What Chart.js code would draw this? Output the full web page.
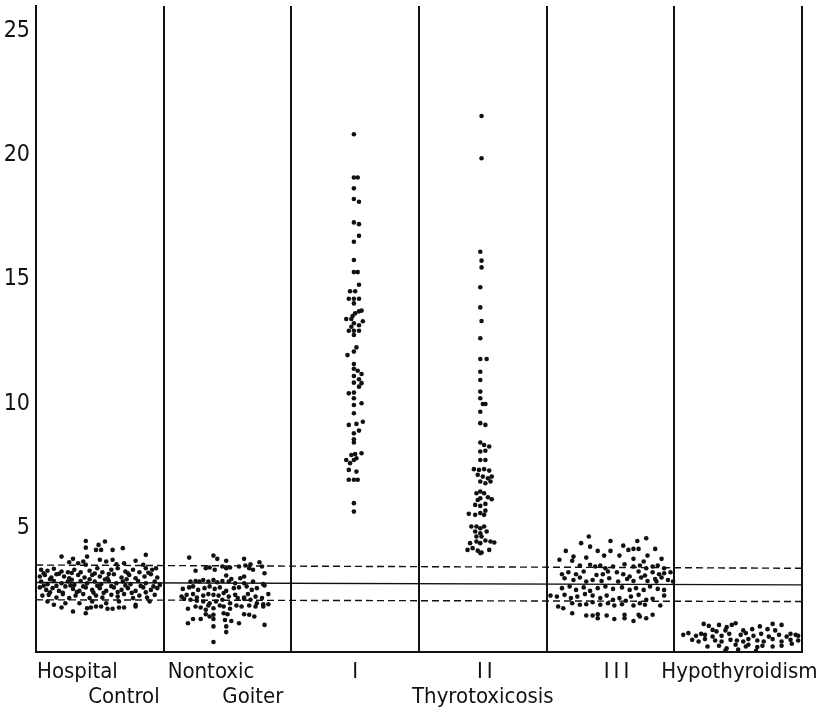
<!DOCTYPE html>
<html>
<head>
<meta charset="utf-8">
<script src="https://cdn.jsdelivr.net/npm/chart.js@4.4.1/dist/chart.umd.min.js"></script>
<style>
  body { margin: 0; background: #fff; }
  canvas { display: block; }
</style>
</head>
<body>
<canvas id="mycanvas" width="826" height="715"></canvas>
<script>
// column labels (first line, second line) and the group label under I-III
var labelTop = ['Hospital', 'Nontoxic', 'I', 'II', 'III', 'Hypothyroidism'];
var labelBottom = ['Control', 'Goiter', '', '', '', ''];
var groupLabel = 'Thyrotoxicosis';
var yTicks = [5, 10, 15, 20, 25];

// reference lines, value at left edge and at right edge
var meanLine = [2.80, 2.70];
var upperLine = [3.50, 3.37];
var lowerLine = [2.10, 2.03];

// points: [position inside column 0..1, value]
var hospitalControl = [
  [0.39,4.47],[0.54,4.45],[0.49,4.31],[0.47,4.11],[0.51,4.11],[0.39,4.20],[0.68,4.18],[0.60,4.11],[0.20,3.84],[0.40,3.84],[0.86,3.91],[0.29,3.75],[0.33,3.57],[0.26,3.61],[0.37,3.64],[0.39,3.51],[0.50,3.71],[0.55,3.64],[0.60,3.71],[0.63,3.53],[0.78,3.67],[0.84,3.51],[0.69,3.57],
  [0.04,3.31],[0.09,3.27],[0.14,3.35],[0.20,3.24],[0.25,3.21],[0.30,3.31],[0.35,3.21],[0.42,3.27],[0.48,3.37],[0.52,3.21],[0.59,3.31],[0.64,3.37],[0.70,3.24],[0.76,3.31],[0.81,3.21],[0.86,3.37],[0.91,3.31],[0.94,3.37],
  [0.06,3.17],[0.18,3.15],[0.28,3.18],[0.46,3.16],[0.57,3.14],[0.72,3.17],[0.88,3.19],
  [0.03,3.04],[0.07,3.10],[0.12,3.00],[0.16,3.13],[0.22,3.04],[0.26,2.97],[0.33,3.10],[0.38,3.00],[0.44,3.10],[0.50,3.04],[0.56,2.97],[0.61,3.13],[0.67,3.00],[0.73,3.10],[0.78,2.97],[0.85,3.04],[0.90,3.13],[0.95,3.00],
  [0.11,2.93],[0.28,2.91],[0.42,2.93],[0.54,2.92],[0.71,2.93],
  [0.04,2.84],[0.09,2.73],[0.14,2.86],[0.20,2.77],[0.25,2.84],[0.30,2.70],[0.35,2.86],[0.40,2.77],[0.46,2.84],[0.51,2.73],[0.57,2.86],[0.63,2.77],[0.68,2.84],[0.74,2.73],[0.80,2.86],[0.86,2.77],[0.93,2.84],[0.97,2.70],
  [0.06,2.67],[0.16,2.66],[0.27,2.68],[0.37,2.64],[0.48,2.67],[0.59,2.65],[0.70,2.68],[0.82,2.66],[0.92,2.64],
  [0.03,2.60],[0.08,2.50],[0.13,2.57],[0.18,2.46],[0.23,2.64],[0.29,2.54],[0.34,2.46],[0.39,2.60],[0.44,2.50],[0.50,2.57],[0.55,2.46],[0.61,2.60],[0.67,2.50],[0.72,2.57],[0.78,2.46],[0.84,2.60],[0.90,2.50],[0.95,2.57],
  [0.11,2.40],[0.21,2.38],[0.32,2.41],[0.45,2.39],[0.53,2.38],[0.64,2.41],[0.75,2.38],[0.86,2.40],
  [0.05,2.27],[0.10,2.30],[0.16,2.19],[0.21,2.33],[0.26,2.17],[0.31,2.27],[0.37,2.33],[0.42,2.17],[0.47,2.27],[0.52,2.19],[0.59,2.30],[0.64,2.23],[0.69,2.33],[0.76,2.17],[0.81,2.27],[0.87,2.19],[0.93,2.30],
  [0.09,2.03],[0.14,1.90],[0.23,1.96],[0.34,1.96],[0.44,2.03],[0.55,1.96],[0.65,2.03],[0.78,1.90],[0.89,2.03],
  [0.20,1.79],[0.29,1.63],[0.40,1.76],[0.39,1.56],[0.43,1.79],[0.47,1.83],[0.51,1.83],[0.56,1.74],[0.60,1.74],[0.65,1.79],[0.69,1.79],[0.78,1.83]
];

var nontoxicGoiter = [
  [0.20,3.80],[0.39,3.88],[0.42,3.75],[0.49,3.67],[0.63,3.75],[0.75,3.61],[0.68,3.53],
  [0.25,3.27],[0.33,3.37],[0.36,3.40],[0.40,3.31],[0.46,3.44],[0.49,3.37],[0.52,3.40],[0.59,3.44],[0.64,3.48],[0.67,3.37],[0.70,3.31],[0.77,3.44],[0.79,3.17],
  [0.49,3.08],[0.53,2.94],[0.60,2.97],[0.63,3.04],
  [0.21,2.84],[0.25,2.86],[0.28,2.84],[0.31,2.90],[0.35,2.84],[0.39,2.90],[0.42,2.81],[0.46,2.86],[0.51,2.84],[0.56,2.77],[0.63,2.77],[0.70,2.84],[0.78,2.73],
  [0.15,2.54],[0.20,2.60],[0.23,2.64],[0.27,2.50],[0.32,2.57],[0.36,2.64],[0.40,2.54],[0.44,2.60],[0.49,2.46],[0.55,2.57],[0.59,2.60],[0.65,2.64],[0.69,2.50],[0.73,2.57],[0.79,2.68],
  [0.14,2.23],[0.18,2.30],[0.23,2.33],[0.26,2.19],[0.31,2.27],[0.35,2.33],[0.39,2.30],[0.43,2.27],[0.47,2.37],[0.51,2.23],[0.56,2.30],[0.63,2.19],[0.66,2.33],[0.72,2.23],[0.77,2.17],[0.82,2.33],
  [0.16,2.14],[0.21,2.10],[0.26,2.06],[0.31,2.03],[0.36,1.96],[0.41,2.03],[0.46,2.10],[0.52,1.96],[0.58,2.17],[0.63,2.14],[0.68,2.10],[0.73,1.96],[0.78,1.92],
  [0.19,1.74],[0.25,1.83],[0.29,1.79],[0.33,1.70],[0.35,1.87],[0.39,1.76],[0.44,1.87],[0.47,1.83],[0.52,1.74],[0.57,1.87],[0.61,1.83],[0.67,1.87],[0.72,1.83],[0.78,1.83],[0.82,1.92],
  [0.33,1.52],[0.36,1.43],[0.39,1.50],[0.47,1.56],[0.50,1.52],[0.63,1.52],[0.67,1.50],[0.71,1.43],
  [0.19,1.16],[0.23,1.33],[0.29,1.33],[0.39,1.33],[0.39,1.03],[0.48,1.29],[0.49,1.03],[0.49,0.80],[0.53,1.25],[0.59,1.16],[0.79,1.09],[0.39,0.40]
];

var thyroI = [
  [0.49,20.84],[0.49,19.1],[0.52,19.1],[0.49,18.66],[0.49,18.23],[0.53,18.12],[0.49,17.29],[0.53,17.22],[0.53,16.75],[0.49,16.51],
  [0.49,15.78],[0.49,15.29],[0.52,15.29],[0.53,14.78],[0.46,14.52],[0.50,14.52],[0.45,14.22],[0.49,14.22],[0.53,14.22],[0.49,14.03],
  [0.55,13.74],[0.53,13.71],[0.50,13.63],[0.48,13.52],[0.43,13.4],[0.47,13.4],[0.56,13.31],[0.49,13.23],[0.47,13.09],[0.53,13.15],
  [0.45,12.93],[0.49,12.93],[0.53,12.93],[0.49,12.76],[0.51,12.26],[0.49,12.09],[0.44,11.95],
  [0.49,11.59],[0.49,11.4],[0.52,11.32],[0.55,11.19],[0.49,11.11],[0.53,10.98],[0.49,10.84],[0.55,10.82],[0.53,10.68],[0.45,10.41],[0.49,10.44],[0.49,10.21],
  [0.49,9.94],[0.55,10.01],[0.49,9.61],[0.45,9.14],[0.51,9.18],[0.56,9.27],[0.49,8.8],[0.53,8.91],[0.49,8.56],[0.49,8.43],
  [0.50,7.97],[0.55,8.0],[0.47,7.93],[0.43,7.73],[0.49,7.73],[0.46,7.6],[0.51,7.8],[0.45,7.33],[0.51,7.26],
  [0.45,6.93],[0.49,6.93],[0.52,6.93],[0.49,5.99],[0.49,5.65]
];

var thyroII = [
  [0.49,21.57],[0.49,19.87],[0.48,16.11],[0.49,15.75],[0.49,15.48],[0.48,14.68],[0.48,13.87],[0.49,13.32],[0.48,12.63],[0.48,11.79],[0.53,11.79],[0.48,11.28],[0.48,10.95],[0.48,10.48],
  [0.48,10.21],[0.50,9.98],[0.52,9.98],[0.48,9.67],[0.48,9.21],[0.52,9.14],
  [0.48,8.43],[0.51,8.33],[0.55,8.27],[0.48,8.07],[0.52,8.1],[0.48,7.73],[0.52,7.73],
  [0.43,7.36],[0.47,7.33],[0.51,7.36],[0.55,7.3],[0.46,7.13],[0.50,7.06],[0.54,6.99],[0.57,7.06],
  [0.48,6.86],[0.56,6.86],[0.52,6.79],[0.48,6.46],[0.45,6.39],[0.51,6.39],
  [0.48,6.19],[0.54,6.23],[0.57,6.15],[0.46,6.12],[0.44,5.92],[0.48,5.88],[0.52,5.96],
  [0.39,5.56],[0.44,5.52],[0.48,5.59],[0.52,5.69],[0.51,5.52],
  [0.41,5.05],[0.45,5.05],[0.48,4.98],[0.51,5.05],[0.44,4.85],[0.48,4.78],[0.53,4.85],[0.45,4.65],[0.49,4.65],
  [0.40,4.38],[0.45,4.45],[0.48,4.38],[0.52,4.49],[0.56,4.45],[0.59,4.41],
  [0.38,4.11],[0.42,4.18],[0.46,4.08],[0.49,4.0],[0.55,4.11],[0.48,3.98]
];

var thyroIII = [
  [0.33,4.65],[0.50,4.47],[0.71,4.47],[0.78,4.58],[0.27,4.38],[0.34,4.24],[0.60,4.28],[0.15,4.07],[0.40,4.07],[0.50,4.07],[0.64,4.11],[0.68,4.15],[0.72,4.15],[0.85,4.15],[0.21,3.84],[0.31,3.80],[0.45,3.88],[0.57,3.88],[0.79,3.88],[0.10,3.71],[0.68,3.75],[0.76,3.64],[0.90,3.75],[0.20,3.67],
  [0.26,3.48],[0.34,3.51],[0.38,3.44],[0.42,3.48],[0.46,3.37],[0.52,3.44],[0.61,3.53],[0.68,3.44],[0.73,3.48],[0.78,3.37],[0.83,3.44],[0.87,3.48],[0.92,3.37],
  [0.12,3.13],[0.17,3.21],[0.23,3.13],[0.29,3.24],[0.39,3.10],[0.44,3.13],[0.48,3.24],[0.55,3.21],[0.60,3.13],[0.65,3.04],[0.72,3.24],[0.77,3.08],[0.83,3.21],[0.88,3.13],[0.92,3.17],[0.97,3.21],
  [0.14,2.97],[0.21,2.90],[0.26,3.00],[0.31,2.84],[0.36,2.90],[0.43,2.86],[0.49,2.97],[0.56,2.84],[0.63,2.94],[0.68,2.86],[0.74,3.00],[0.79,2.86],[0.85,2.94],[0.90,3.00],[0.95,2.90],[0.86,2.84],[0.99,2.84],
  [0.12,2.57],[0.18,2.64],[0.23,2.50],[0.29,2.60],[0.34,2.46],[0.40,2.57],[0.46,2.64],[0.52,2.54],[0.59,2.60],[0.65,2.50],[0.70,2.57],[0.76,2.50],[0.81,2.64],[0.87,2.54],[0.92,2.50],
  [0.03,2.27],[0.08,2.23],[0.14,2.30],[0.19,2.17],[0.24,2.23],[0.30,2.33],[0.36,2.27],[0.42,2.17],[0.47,2.27],[0.52,2.10],[0.57,2.17],[0.62,2.06],[0.66,2.23],[0.72,2.30],[0.78,2.10],[0.83,2.14],[0.92,2.27],
  [0.09,1.83],[0.13,1.76],[0.20,1.96],[0.26,1.90],[0.31,1.92],[0.36,2.00],[0.42,1.90],[0.48,1.96],[0.53,1.87],[0.59,1.92],[0.68,1.87],[0.73,1.96],[0.89,1.87],[0.77,1.90],
  [0.20,1.56],[0.31,1.47],[0.36,1.47],[0.40,1.52],[0.40,1.36],[0.47,1.47],[0.53,1.33],[0.61,1.50],[0.61,1.36],[0.68,1.25],[0.72,1.50],[0.73,1.43],[0.78,1.36],[0.83,1.50]
];

var hypothyroidism = [
  [0.23,1.13],[0.27,1.05],[0.35,1.09],[0.41,1.00],[0.45,1.09],[0.48,1.16],[0.67,1.03],[0.77,1.13],[0.84,1.09],[0.30,0.89],[0.33,0.83],[0.40,0.87],[0.54,0.87],[0.61,0.92],[0.73,0.92],[0.79,0.87],[0.91,0.73],
  [0.07,0.69],[0.11,0.76],[0.17,0.65],[0.21,0.73],[0.24,0.69],[0.30,0.62],[0.37,0.65],[0.43,0.73],[0.52,0.69],[0.56,0.76],[0.62,0.65],[0.68,0.73],[0.74,0.62],[0.82,0.69],[0.88,0.62],[0.95,0.69],[0.97,0.65],
  [0.14,0.49],[0.19,0.42],[0.24,0.52],[0.32,0.46],[0.37,0.42],[0.44,0.49],[0.49,0.46],[0.54,0.42],[0.58,0.52],[0.65,0.46],[0.70,0.42],[0.77,0.52],[0.84,0.42],[0.91,0.49],[0.97,0.46],
  [0.26,0.22],[0.35,0.25],[0.41,0.15],[0.48,0.29],[0.56,0.22],[0.65,0.20],[0.69,0.25],[0.77,0.22],[0.84,0.25],[0.92,0.33],[0.58,0.29],[0.40,0.06],[0.64,0.05],[0.50,0.10]
];

var groups = [hospitalControl, nontoxicGoiter, thyroI, thyroII, thyroIII, hypothyroidism];
var nCols = labelTop.length;

var datasets = [];
groups.forEach(function(pts, i) {
  datasets.push({
    type: 'scatter',
    label: labelTop[i],
    data: pts.map(function(p) { return { x: i + p[0], y: p[1] }; }),
    backgroundColor: '#111',
    borderWidth: 0,
    pointRadius: 2.3
  });
});

function refLine(vals, dash) {
  return {
    type: 'line',
    data: [{ x: 0, y: vals[0] }, { x: nCols, y: vals[1] }],
    borderColor: '#111',
    borderWidth: 1.4,
    borderDash: dash,
    pointRadius: 0,
    fill: false
  };
}
datasets.push(refLine(meanLine, []));
datasets.push(refLine(upperLine, [7, 4]));
datasets.push(refLine(lowerLine, [7, 4]));

var FONT = '"DejaVu Sans Condensed", "DejaVu Sans", sans-serif';

var labelPlugin = {
  id: 'colLabels',
  afterDraw: function(chart) {
    var ctx = chart.ctx;
    var xs = chart.scales.x;
    var row1 = chart.chartArea.bottom + 26;
    var row2 = row1 + 25;
    ctx.save();
    ctx.font = '22px ' + FONT;
    ctx.fillStyle = '#111';
    ctx.textBaseline = 'alphabetic';

    ctx.textAlign = 'left';
    ctx.fillText(labelTop[0], xs.getPixelForValue(0) + 1, row1);
    ctx.fillText(labelTop[1], xs.getPixelForValue(1) + 4, row1);
    ctx.fillText(labelTop[5], xs.getPixelForValue(5) - 13, row1);

    ctx.textAlign = 'right';
    ctx.fillText(labelBottom[0], xs.getPixelForValue(1) - 4, row2);
    ctx.fillText(labelBottom[1], xs.getPixelForValue(2) - 8, row2);

    ctx.textAlign = 'center';
    ctx.fillText(groupLabel, xs.getPixelForValue(3.5), row2);
    // roman numerals are spaced out in the original
    ctx.letterSpacing = '4px';
    var shift = [0, 0, 2, 4, 8];
    for (var i = 2; i <= 4; i++) {
      ctx.fillText(labelTop[i], xs.getPixelForValue(i + 0.5) + shift[i], row1);
    }
    ctx.restore();
  }
};

var ctx = document.getElementById('mycanvas');
var chart = new Chart(ctx, {
  data: { datasets: datasets },
  options: {
    responsive: false,
    animation: false,
    devicePixelRatio: 1,
    layout: { padding: { top: 6, right: 24, left: 0, bottom: 0 } },
    plugins: { legend: { display: false }, tooltip: { enabled: false } },
    scales: {
      x: {
        type: 'linear',
        min: 0,
        max: nCols,
        ticks: { display: false, stepSize: 1 },
        grid: { color: '#111', lineWidth: 2, drawTicks: false },
        border: { color: '#111', width: 2 },
        afterFit: function(s) { s.height = 63; s.paddingLeft = 0; s.paddingRight = 0; }
      },
      y: {
        min: 0,
        max: 26,
        afterBuildTicks: function(s) {
          s.ticks = yTicks.map(function(v) { return { value: v }; });
        },
        ticks: { color: '#111', font: { family: '"Liberation Sans Narrow", ' + FONT, size: 23 }, padding: 6 },
        grid: { display: false, drawTicks: false },
        border: { color: '#111', width: 2 },
        afterFit: function(s) { s.width = 36; s.paddingTop = 0; s.paddingBottom = 0; }
      }
    }
  },
  plugins: [labelPlugin]
});
</script>
</body>
</html>
